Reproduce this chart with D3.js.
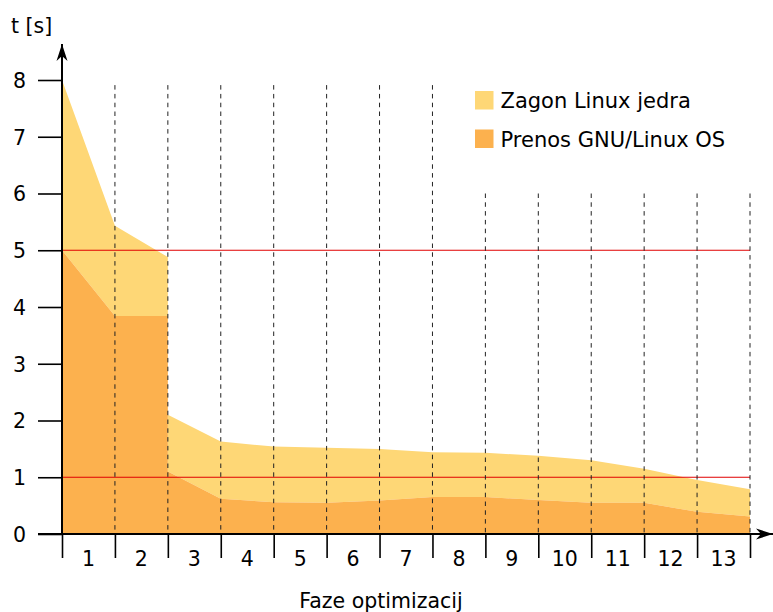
<!DOCTYPE html>
<html>
<head>
<meta charset="utf-8">
<script src="https://cdn.jsdelivr.net/npm/d3@7"></script>
<style>
  html, body { margin: 0; padding: 0; background: #fff; }
  svg { display: block; }
  text { font-family: "DejaVu Sans", sans-serif; fill: #000; }
</style>
</head>
<body>
<svg id="chart" width="773" height="612"></svg>
<script>
// ---- data ----
// optimisation phase boundaries (phase 2 appears twice: a sudden drop there)
const phaseX = [0, 1, 2, 2, 3, 4, 5, 6, 7, 8, 9, 10, 11, 12, 13];
// Prenos GNU/Linux OS [s]
const prenos = [5.00, 3.84, 3.84, 1.10, 0.62, 0.56, 0.55, 0.59, 0.65, 0.65, 0.60, 0.55, 0.55, 0.39, 0.31];
// Zagon Linux jedra [s] (stacked on top of Prenos)
const zagon  = [3.00, 1.59, 1.04, 1.00, 1.01, 0.98, 0.97, 0.91, 0.79, 0.78, 0.78, 0.75, 0.60, 0.56, 0.48];
const phaseLabels = ["1","2","3","4","5","6","7","8","9","10","11","12","13"];
const yTicks = [0, 1, 2, 3, 4, 5, 6, 7, 8];
const refLines = [5, 1];
const seriesNames = ["Zagon Linux jedra", "Prenos GNU/Linux OS"];
const colors = { "Zagon Linux jedra": "#fed776", "Prenos GNU/Linux OS": "#fcb14e" };

// ---- layout ----
const svg = d3.select("#chart");
const x = d3.scaleLinear().domain([0, 13]).range([62, 750]);
const y = d3.scaleLinear().domain([0, 8]).range([534, 80]);

const rows = phaseX.map((p, i) => ({ p, prenos: prenos[i], zagon: zagon[i] }));
const stack = d3.stack().keys(["prenos", "zagon"]);
const layers = stack(rows);
const area = d3.area()
  .x(d => x(d.data.p))
  .y0(d => y(d[0]))
  .y1(d => y(d[1]));

// draw zagon (top) and prenos layers
svg.append("path").datum(layers[1]).attr("d", area).attr("fill", colors["Zagon Linux jedra"]);
svg.append("path").datum(layers[0]).attr("d", area).attr("fill", colors["Prenos GNU/Linux OS"]);

// reference lines
svg.selectAll("line.ref").data(refLines).enter().append("line")
  .attr("class", "ref")
  .attr("x1", x(0)).attr("x2", x(13))
  .attr("y1", d => y(d)).attr("y2", d => y(d))
  .attr("stroke", "#e00000").attr("stroke-width", 1.1);

// dashed phase boundaries
const boundaries = d3.range(1, 14);
svg.selectAll("line.dash").data(boundaries).enter().append("line")
  .attr("class", "dash")
  .attr("x1", d => x(d)).attr("x2", d => x(d))
  .attr("y1", d => d <= 7 ? y(7.91) : y(6))
  .attr("y2", y(0))
  .attr("stroke", "#222").attr("stroke-width", 1)
  .attr("stroke-dasharray", "4.5,4.3");

// arrow markers
const defs = svg.append("defs");
defs.append("marker")
  .attr("id", "arrow")
  .attr("viewBox", "-20 -8 22 16")
  .attr("refX", 0).attr("refY", 0)
  .attr("markerWidth", 22).attr("markerHeight", 16)
  .attr("markerUnits", "userSpaceOnUse")
  .attr("orient", "auto")
  .append("path")
  .attr("d", "M0,0 L-17,-5.5 L-12,0 L-17,5.5 Z")
  .attr("fill", "#000");

// y axis
const yAxis = d3.axisLeft(y).tickValues(yTicks).tickSize(24).tickSizeOuter(0).tickPadding(12);
const gy = svg.append("g").attr("transform", `translate(${x(0)},0)`).call(yAxis);
gy.select(".domain").remove();
gy.selectAll(".tick line").attr("stroke", "#000").attr("stroke-width", 1.6);
gy.selectAll(".tick text").attr("font-size", 20.5).attr("font-family", "DejaVu Sans").attr("fill", "#000").attr("dy", "0.36em");

// x axis ticks (boundaries, downward)
const xAxis = d3.axisBottom(x).tickValues(d3.range(0, 14)).tickSize(24).tickSizeOuter(0).tickFormat("");
const gx = svg.append("g").attr("transform", `translate(0,${y(0)})`).call(xAxis);
gx.select(".domain").remove();
gx.selectAll(".tick line").attr("stroke", "#000").attr("stroke-width", 1.6);

// x labels centered in phases
svg.selectAll("text.xl").data(phaseLabels).enter().append("text")
  .attr("class", "xl")
  .attr("x", (d, i) => x(i + 0.5))
  .attr("y", 566)
  .attr("text-anchor", "middle")
  .attr("font-size", 20.5)
  .text(d => d);

// axis lines with arrows
svg.append("line")
  .attr("x1", x(0)).attr("x2", x(0))
  .attr("y1", y(0) + 1).attr("y2", 44)
  .attr("stroke", "#000").attr("stroke-width", 2)
  .attr("marker-end", "url(#arrow)");
svg.append("line")
  .attr("x1", 38).attr("x2", 773)
  .attr("y1", y(0)).attr("y2", y(0))
  .attr("stroke", "#000").attr("stroke-width", 2)
  .attr("marker-end", "url(#arrow)");

// axis titles
svg.append("text").attr("x", 11).attr("y", 33).attr("font-size", 20.5).text("t [s]");
svg.append("text").attr("x", 381).attr("y", 608).attr("text-anchor", "middle").attr("font-size", 20.5).text("Faze optimizacij");

// legend
const lg = svg.selectAll("g.lg").data(seriesNames).enter().append("g")
  .attr("class", "lg")
  .attr("transform", (d, i) => `translate(475,${91 + i * 38.5})`);
lg.append("rect").attr("width", 18.5).attr("height", 18.5).attr("fill", d => colors[d]);
lg.append("text").attr("x", 25.5).attr("y", 17).attr("font-size", 21).text(d => d);
</script>
</body>
</html>
